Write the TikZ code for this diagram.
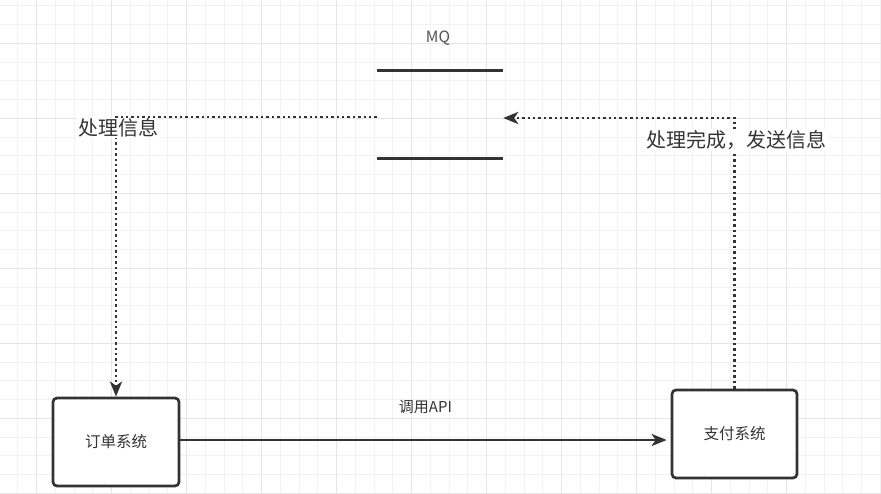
\documentclass[tikz,border=0pt]{standalone}
\usepackage{fontspec}
\setmainfont{Noto Sans CJK SC}
\usetikzlibrary{arrows.meta,calc}
\definecolor{ink}{HTML}{333333}
\definecolor{gridminor}{HTML}{F2F2F2}
\definecolor{gridmajor}{HTML}{E6E6E6}
\tikzset{
  sysbox/.style={draw=ink, line width=2.7pt, rounded corners=4pt, fill=white,
    minimum width=126pt, minimum height=88pt, inner sep=0pt, text=ink, font=\fontsize{15.5}{18}\selectfont},
  dotline/.style={draw=ink, line width=2.8pt, dash pattern=on 2.4pt off 3pt},
  tip/.style={-{Stealth[length=15pt,width=12pt,inset=4pt]}},
  lbl/.style={fill=white, text=ink, inner sep=1pt, font=\fontsize{20}{24}\selectfont},
  small/.style={text=ink, font=\fontsize{15}{18}\selectfont, inner sep=0pt},
}
\begin{document}
\begin{tikzpicture}[x=1pt,y=-1pt]
\useasboundingbox (0,0) rectangle (881,494);
\fill[white] (0,0) rectangle (881,494);
% grid
\foreach \i in {0,...,47} {
  \draw[gridminor, line width=1pt] ({-0.8+18.75*\i},0) -- ({-0.8+18.75*\i},494);
}
\foreach \i in {0,...,26} {
  \draw[gridminor, line width=1pt] (0,{5.8+18.75*\i}) -- (881,{5.8+18.75*\i});
}
\foreach \i in {0,...,11} {
  \draw[gridmajor, line width=1pt] ({36.7+75*\i-75},0) -- ({36.7+75*\i-75},494);
}
\foreach \i in {0,...,7} {
  \draw[gridmajor, line width=1pt] (0,{43.3+75*\i-75}) -- (881,{43.3+75*\i-75});
}
% MQ queue
\node[minimum width=126pt, minimum height=87pt, inner sep=0pt] (mq) at (440,114.5) {};
\draw[ink, line width=2.7pt] (mq.north west) -- (mq.north east);
\draw[ink, line width=2.7pt] (mq.south west) -- (mq.south east);
\node[text=ink!85, font=\fontsize{15.5}{19}\selectfont, inner sep=0pt] (mqlabel) at (438,38) {MQ};
% systems
\node[sysbox] (order) at (116,442) {订单系统};
\node[sysbox, minimum width=125pt] (pay) at (734.5,434) {支付系统};
% connectors
\draw[dotline, tip] ([yshift=-2.5pt]mq.west) -| (order.north)
  node[lbl, pos=0.5, xshift=2pt, yshift=-11pt] (l1) {处理信息};
\draw[dotline, tip] (pay.north) |- ([yshift=-3.5pt]mq.east)
  node[lbl, pos=0.5, xshift=2pt, yshift=-22pt] (l2) {处理完成，发送信息};
\draw[ink, line width=2.7pt, tip, shorten >=4pt] ([yshift=2pt]order.east) -- ([yshift=2pt]order.east -| pay.west)
  node[small, pos=0.5, yshift=33pt] (api) {调用API};
\end{tikzpicture}
\end{document}
